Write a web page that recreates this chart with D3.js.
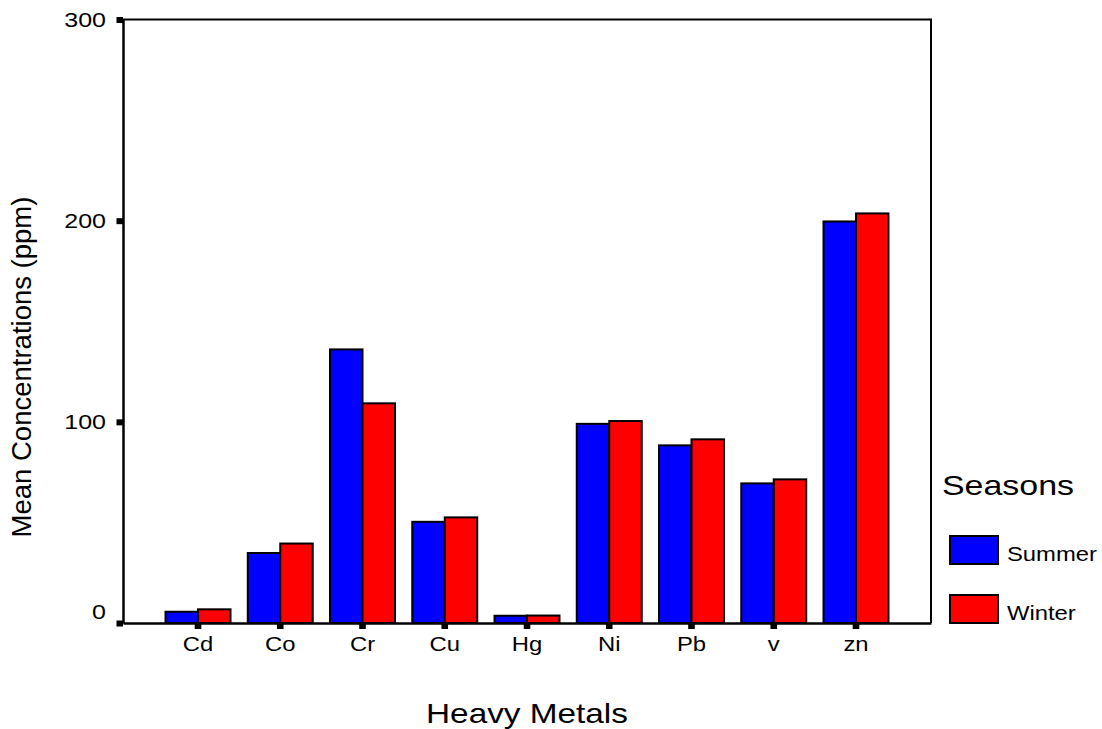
<!DOCTYPE html>
<html>
<head>
<meta charset="utf-8">
<script src="https://cdn.jsdelivr.net/npm/d3@7"></script>
<style>
  body { margin: 0; background: #fff; }
  text { font-family: "Liberation Sans", Arial, sans-serif; fill: #000; }
</style>
</head>
<body>
<div id="chart"></div>
<script>
// data
var metals = ["Cd", "Co", "Cr", "Cu", "Hg", "Ni", "Pb", "v", "zn"];
var seasons = ["Summer", "Winter"];
var summerValues = [5.6, 34.8, 136, 50.3, 3.6, 99, 88.3, 69.4, 199.6];
var winterValues = [6.8, 39.5, 109.2, 52.5, 3.7, 100.4, 91.3, 71.4, 203.6];
var yTicks = [0, 100, 200, 300];
var colors = {Summer: "#0000ff", Winter: "#ff0000"};

var W = 1102, H = 729;
var margin = {top: 19.5, right: 171, bottom: 106, left: 123};
var width = W - margin.left - margin.right;
var height = H - margin.top - margin.bottom;
var STRETCH = 1.19; // the original text is a bit wider than Arial

var svg = d3.select("#chart")
            .append("svg")
              .attr("width", W)
              .attr("height", H);

var g = svg.append("g")
           .attr("transform", "translate(" + margin.left + "," + margin.top + ")");

// scales
var x = d3.scaleBand()
          .domain(metals)
          .range([0, width])
          .paddingInner(0.21)
          .paddingOuter(0.517);
var xSub = d3.scaleBand()
             .domain(seasons)
             .range([0, x.bandwidth()]);
var y = d3.scaleLinear()
          .domain([0, 300])
          .range([height, 0]);

var rows = metals.map(function(m, i) {
  return {metal: m, Summer: summerValues[i], Winter: winterValues[i]};
});

// bars
var groups = g.selectAll(".grp")
  .data(rows)
  .enter().append("g")
    .attr("class", "grp")
    .attr("transform", function(d) { return "translate(" + x(d.metal) + ",0)"; });

groups.selectAll("rect")
  .data(function(d) { return seasons.map(function(s) { return {key: s, value: d[s]}; }); })
  .enter().append("rect")
    .attr("x", function(d) { return xSub(d.key); })
    .attr("y", function(d) { return y(d.value); })
    .attr("width", xSub.bandwidth())
    .attr("height", function(d) { return height - y(d.value); })
    .style("fill", function(d) { return colors[d.key]; })
    .style("stroke", "#000")
    .style("stroke-width", 2);

// frame: top and right lines
g.append("path")
  .attr("d", "M0,0H" + width + "V" + height)
  .style("fill", "none")
  .style("stroke", "#000")
  .style("stroke-width", 2);

// y axis
var yAxis = g.append("g")
  .call(d3.axisLeft(y).tickValues(yTicks).tickSize(0).tickPadding(17)
          .tickFormat(d3.format("d")));
yAxis.select(".domain").style("stroke", "#000").style("stroke-width", 2.5);
yAxis.selectAll(".tick text")
  .style("font-size", "21px")
  .attr("dy", function(d) { return d === 0 ? "-0.2em" : "0.34em"; });
yAxis.selectAll(".tick")
  .append("rect")
    .attr("x", -6.5).attr("y", -3).attr("width", 6.5).attr("height", 6)
    .style("fill", "#000");

// x axis
var xAxis = g.append("g")
  .attr("transform", "translate(0," + height + ")")
  .call(d3.axisBottom(x).tickSize(0).tickPadding(14));
xAxis.select(".domain").style("stroke", "#000").style("stroke-width", 2.5);
xAxis.selectAll(".tick text").style("font-size", "20px");
xAxis.selectAll(".tick")
  .append("rect")
    .attr("x", -3.3).attr("y", 0).attr("width", 6.6).attr("height", 6)
    .style("fill", "#000");

// axis titles
svg.append("text")
  .attr("class", "wide")
  .attr("x", margin.left + width / 2)
  .attr("y", 723)
  .style("text-anchor", "middle")
  .style("font-size", "28px")
  .text("Heavy Metals");

svg.append("text")
  .attr("transform", "translate(31,367) rotate(-90)")
  .style("text-anchor", "middle")
  .style("font-size", "27.5px")
  .text("Mean Concentrations (ppm)");

// legend
var legend = svg.append("g").attr("transform", "translate(942,0)");
legend.append("text")
  .attr("class", "wide")
  .attr("x", 0).attr("y", 495)
  .style("font-size", "28.5px")
  .text("Seasons");

var items = legend.selectAll(".item")
  .data(seasons)
  .enter().append("g")
    .attr("class", "item")
    .attr("transform", function(d, i) { return "translate(0," + (536 + i * 59) + ")"; });
items.append("rect")
  .attr("x", 8).attr("y", 0).attr("width", 48).attr("height", 28)
  .style("fill", function(d) { return colors[d]; })
  .style("stroke", "#000")
  .style("stroke-width", 2);
items.append("text")
  .attr("class", "wide")
  .attr("x", 65).attr("y", 24.5)
  .style("font-size", "20px")
  .text(function(d) { return d; });

// widen horizontal text like the original
xAxis.selectAll(".tick text").classed("wide", true);
yAxis.selectAll(".tick text").classed("wide", true);
svg.selectAll("text.wide").each(function() {
  var len = this.getComputedTextLength();
  d3.select(this)
    .attr("textLength", len * STRETCH)
    .attr("lengthAdjust", "spacingAndGlyphs");
});
</script>
</body>
</html>
